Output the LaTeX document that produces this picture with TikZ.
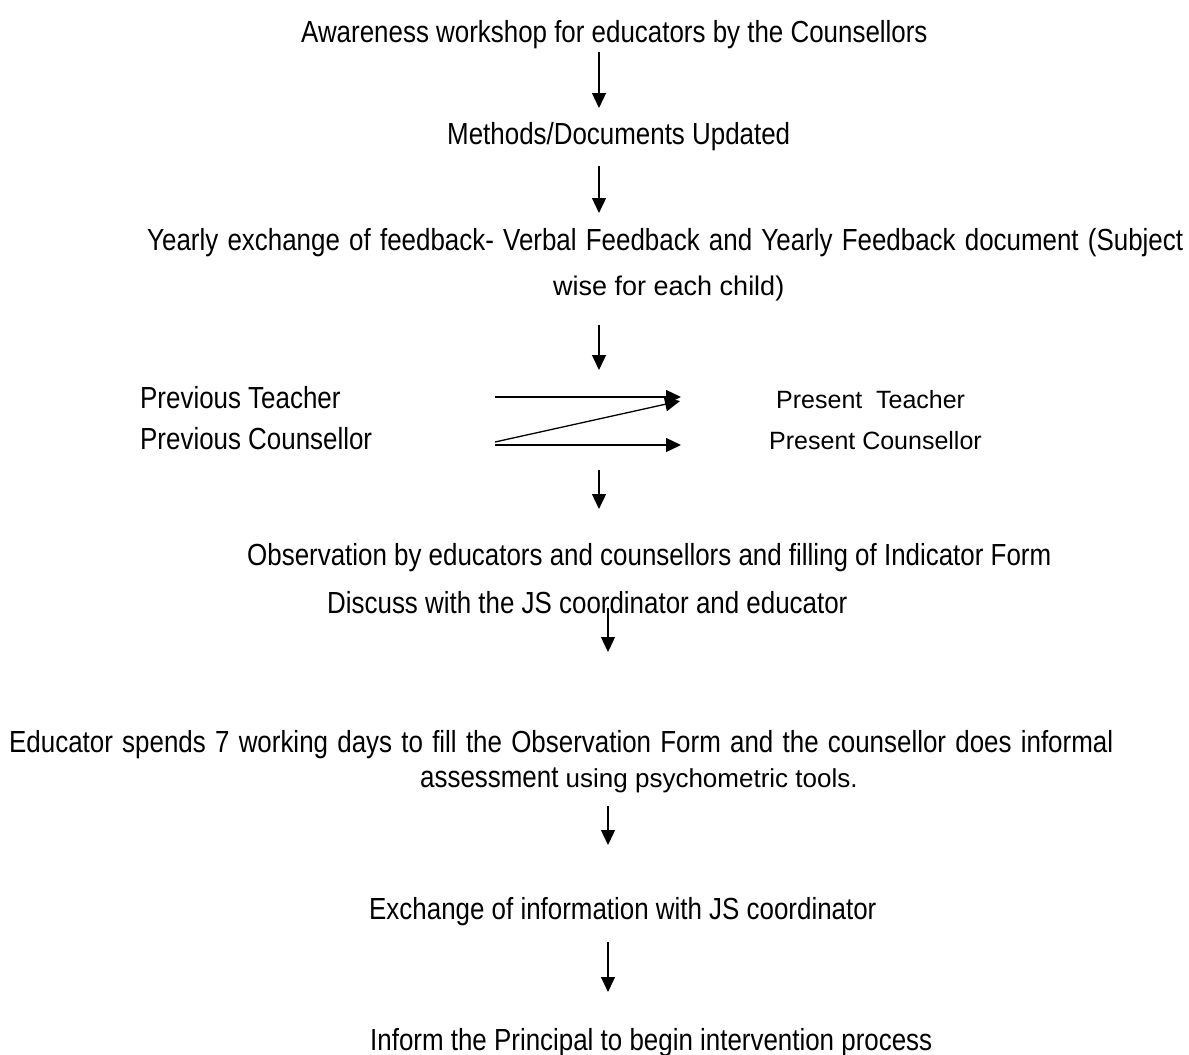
\documentclass[tikz,border=0pt]{standalone}
\usepackage{fontspec}
\usetikzlibrary{arrows.meta}
\newfontfamily\condfont[FakeStretch=0.85]{Liberation Sans}
\newfontfamily\plainfont{Liberation Sans}
\newcommand\condtext{\condfont\fontsize{30.5}{36}\selectfont}
\newcommand\plaintext{\plainfont\fontsize{26}{31}\selectfont}
\begin{document}
\begin{tikzpicture}[x=1pt,y=-1pt,
  label/.style={inner sep=0pt,anchor=base west,font=\condtext},
  plainlabel/.style={inner sep=0pt,anchor=base west,font=\plaintext},
  flow/.style={line width=1.3pt,-{Triangle[length=15pt,width=14pt]}}]
\fill[white] (0,0) rectangle (1189,1055);
\useasboundingbox (0,0) rectangle (1189,1055);

% process steps (first lines of wrapped paragraphs are justified)
\node[label] (aware) at (301,42) {Awareness workshop for educators by the Counsellors};
\node[label] (methods) at (447,144) {Methods/Documents Updated};
\node[label] (yearly) at (147,250) {\makebox[1036pt][s]{Yearly exchange of feedback- Verbal Feedback and Yearly Feedback document (Subject}};
\node[plainlabel,font=\plainfont\fontsize{27}{32}\selectfont] (wise) at (553,295) {wise for each child)};
\node[label] (prevT) at (140,408) {Previous Teacher};
\node[label] (prevC) at (140,449) {Previous Counsellor};
\node[plainlabel,font=\plainfont\fontsize{25}{30}\selectfont] (presT) at (776,408) {Present\hspace{0.55em}Teacher};
\node[plainlabel,font=\plainfont\fontsize{25}{30}\selectfont] (presC) at (769,449) {Present Counsellor};
\node[label] (observe) at (247,565) {Observation by educators and counsellors and filling of Indicator Form};
\node[label] (discuss) at (327,613) {Discuss with the JS coordinator and educator};
\node[label] (spend) at (9,752) {\makebox[1104pt][s]{Educator spends 7 working days to fill the Observation Form and the counsellor does informal}};
\node[label] (assess) at (420,787) {assessment {\plaintext using psychometric tools.}};
\node[label] (exchange) at (369,919) {Exchange of information with JS coordinator};
\node[label] (inform) at (370,1050) {Inform the Principal to begin intervention process};

% arrow end points
\coordinate (a1s) at (599,52);  \coordinate (a1e) at (599,108);
\coordinate (a2s) at (599,166); \coordinate (a2e) at (599,213);
\coordinate (a3s) at (599,325); \coordinate (a3e) at (599,370);
\coordinate (hts) at (495,397); \coordinate (hte) at (681,397);
\coordinate (dgs) at (495,442); \coordinate (dge) at (680,401);
\coordinate (hbs) at (495,445); \coordinate (hbe) at (681,445);
\coordinate (a4s) at (599,470); \coordinate (a4e) at (599,509);
\coordinate (a5s) at (608,608); \coordinate (a5e) at (608,652);
\coordinate (a6s) at (608,806); \coordinate (a6e) at (608,845);
\coordinate (a7s) at (608,942); \coordinate (a7e) at (608,992);

\draw[flow] (a1s) -- (a1e);
\draw[flow] (a2s) -- (a2e);
\draw[flow] (a3s) -- (a3e);
\draw[flow] (hts) -- (hte);
\draw[flow] (dgs) -- (dge);
\draw[flow] (hbs) -- (hbe);
\draw[flow] (a4s) -- (a4e);
\draw[flow] (a5s) -- (a5e);
\draw[flow] (a6s) -- (a6e);
\draw[flow] (a7s) -- (a7e);
\end{tikzpicture}
\end{document}
